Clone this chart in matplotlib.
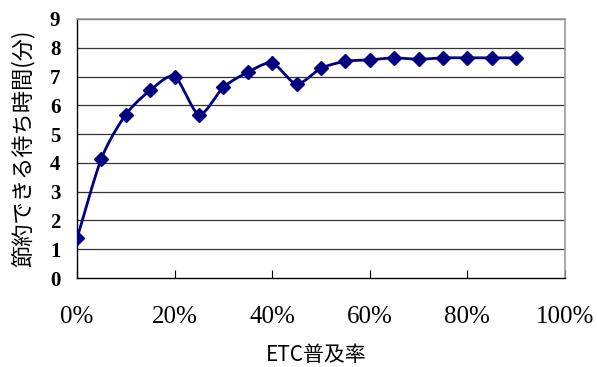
import numpy as np
import matplotlib
matplotlib.use("Agg")
import matplotlib.pyplot as plt
from matplotlib.ticker import FuncFormatter

# ETC adoption rate (%) and waiting time that can be saved (minutes)
adoption = [0, 5, 10, 15, 20, 25, 30, 35, 40, 45, 50, 55, 60, 65, 70, 75, 80, 85, 90]
saved_minutes = [1.38, 4.15, 5.68, 6.52, 7.0, 5.68, 6.63, 7.15, 7.47, 6.74, 7.29,
                 7.53, 7.58, 7.65, 7.6, 7.65, 7.65, 7.65, 7.65]
x_ticks = [0, 20, 40, 60, 80, 100]
y_ticks = list(range(0, 10))

NAVY = "#000080"
CJK = ["Noto Sans CJK JP", "DejaVu Sans"]


def catmull_rom(xs, ys, samples=24, tension=0.8):
    """Smoothed curve through the points (Catmull-Rom style, as in office charts)."""
    xs = np.asarray(xs, float)
    ys = np.asarray(ys, float)
    px = np.concatenate([[2 * xs[0] - xs[1]], xs, [2 * xs[-1] - xs[-2]]])
    py = np.concatenate([[2 * ys[0] - ys[1]], ys, [2 * ys[-1] - ys[-2]]])
    out_x, out_y = [], []
    t = np.linspace(0, 1, samples, endpoint=False)
    h00 = 2 * t**3 - 3 * t**2 + 1
    h10 = t**3 - 2 * t**2 + t
    h01 = -2 * t**3 + 3 * t**2
    h11 = t**3 - t**2
    for i in range(1, len(px) - 2):
        p0, p1, p2, p3 = (np.array([px[j], py[j]]) for j in range(i - 1, i + 3))
        m1 = (p2 - p0) / 2 * tension
        m2 = (p3 - p1) / 2 * tension
        seg = (np.outer(h00, p1) + np.outer(h10, m1) + np.outer(h01, p2) + np.outer(h11, m2))
        out_x.extend(seg[:, 0])
        out_y.extend(seg[:, 1])
    out_x.append(xs[-1])
    out_y.append(ys[-1])
    return np.array(out_x), np.array(out_y)


fig = plt.figure(figsize=(5.97, 3.67), dpi=100)
ax = fig.add_axes([77 / 597, 89 / 367, 488 / 597, 259 / 367])

cx, cy = catmull_rom(adoption, saved_minutes)
ax.plot(cx, cy, color=NAVY, lw=2.0, zorder=3)
ax.plot(adoption, saved_minutes, linestyle="none", marker="D", markersize=7.5,
        color=NAVY, zorder=4)

ax.set_xlim(0, 100)
ax.set_ylim(0, 9)
ax.set_xticks(x_ticks)
ax.set_yticks(y_ticks)
ax.xaxis.set_major_formatter(FuncFormatter(lambda v, _: f"{int(v)}%"))

for y in y_ticks[1:]:
    ax.axhline(y, color="#333333", lw=0.9, zorder=1)

for side in ("left", "bottom"):
    ax.spines[side].set_color("black")
    ax.spines[side].set_linewidth(1.0)
for side in ("top", "right"):
    ax.spines[side].set_color("#999999")
    ax.spines[side].set_linewidth(1.2)

ax.tick_params(axis="x", direction="in", length=6, width=0.8, pad=20,
               labelsize=18)
ax.tick_params(axis="y", length=0, pad=12, labelsize=15)
for lab in ax.get_xticklabels():
    lab.set_fontfamily("Liberation Serif")
for lab in ax.get_yticklabels():
    lab.set_fontfamily("Liberation Serif")
    lab.set_fontweight("bold")

ax.set_ylabel("節約できる待ち時間(分)", fontsize=16, family=CJK, va="center")
ax.yaxis.set_label_coords(-54 / 488, 0.5)
ax.set_xlabel("ETC普及率", fontsize=15, family=CJK, va="center")
ax.xaxis.set_label_coords(0.49, -77 / 259)

fig.savefig("out.png", dpi=100)
